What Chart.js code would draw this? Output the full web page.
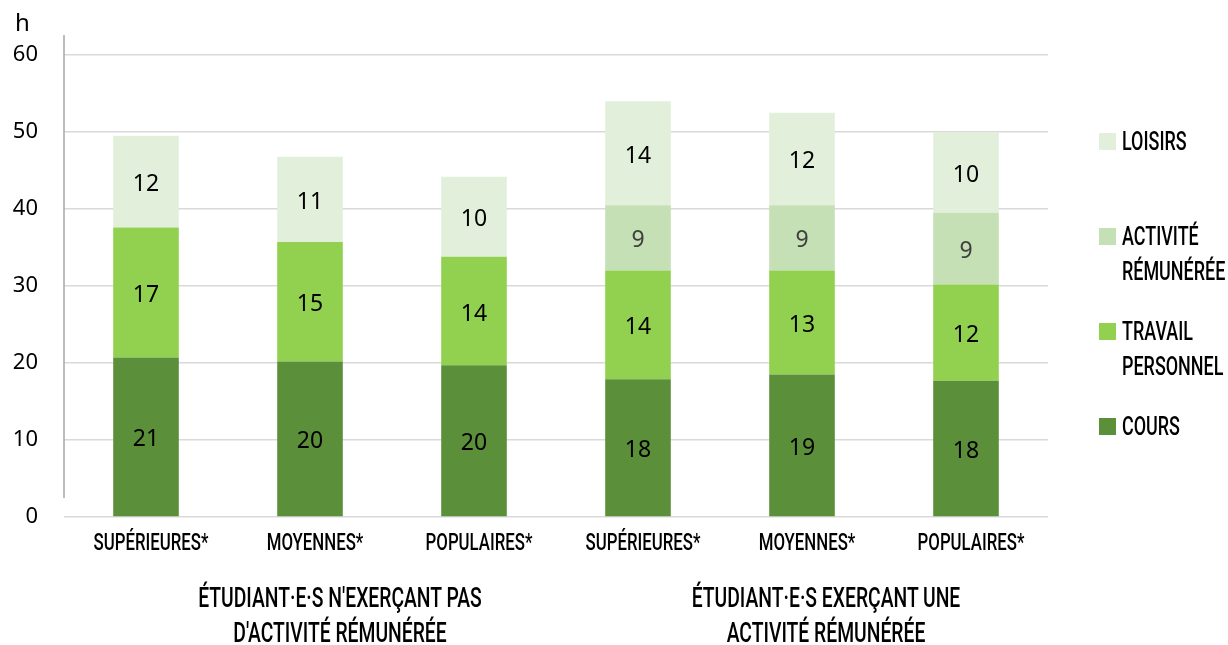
<!DOCTYPE html>
<html lang="fr">
<head>
<meta charset="UTF-8">
<title>Temps hebdomadaire des étudiant·e·s</title>
<script src="https://cdn.jsdelivr.net/npm/chart.js"></script>
<style>
    body { margin: 0; background: #fff; font-family: "Noto Sans", sans-serif; color: #000; }
    #wrap { position: relative; width: 1228px; height: 645px; overflow: hidden; }
    canvas { position: absolute; left: 0; top: 0; }
    .unit { position: absolute; left: 15px; top: 5px; font-size: 24px; }
    .group {
        position: absolute; top: 580px; width: 500px; text-align: center;
        font-family: Roboto, sans-serif; font-weight: 500; font-size: 28px; line-height: 35px;
        transform: scaleX(0.69); transform-origin: 50% 0;
    }
    .legend-item {
        position: absolute; left: 1099px;
        font-family: Roboto, sans-serif; font-weight: 500; font-size: 26px; line-height: 35px;
    }
    .legend-item .box { position: absolute; left: 0; top: 9px; width: 17px; height: 17px; }
    .legend-item .txt {
        position: absolute; left: 23px; top: 0; white-space: nowrap;
        transform: scaleX(0.69); transform-origin: 0 0;
    }
</style>
</head>
<body>
<div id="wrap">
    <canvas id="chart" width="1228" height="645"></canvas>
    <div class="unit">h</div>
    <div class="group" style="left:90px">ÉTUDIANT·E·S N'EXERÇANT PAS<br>D'ACTIVITÉ RÉMUNÉRÉE</div>
    <div class="group" style="left:576px">ÉTUDIANT·E·S EXERÇANT UNE<br>ACTIVITÉ RÉMUNÉRÉE</div>
    <div id="legend"></div>
</div>
<script>
    // categories and values (hours per week)
    const categories = ['SUPÉRIEURES*', 'MOYENNES*', 'POPULAIRES*', 'SUPÉRIEURES*', 'MOYENNES*', 'POPULAIRES*'];
    const cours    = [20.7, 20.2, 19.7, 17.9, 18.5, 17.7];
    const travail  = [16.9, 15.5, 14.1, 14.1, 13.5, 12.5];
    const activite = [0, 0, 0, 8.5, 8.5, 9.3];
    const loisirs  = [11.9, 11.1, 10.4, 13.5, 12.0, 10.5];

    // printed labels (rounded in the source)
    const coursLabels    = [21, 20, 20, 18, 19, 18];
    const travailLabels  = [17, 15, 14, 14, 13, 12];
    const activiteLabels = [null, null, null, 9, 9, 9];
    const loisirsLabels  = [12, 11, 10, 14, 12, 10];

    const seriesNames = ['COURS', 'TRAVAIL PERSONNEL', 'ACTIVITÉ RÉMUNÉRÉE', 'LOISIRS'];
    const colors = ['#5b8f3a', '#92d050', '#c5e0b4', '#e2efda'];
    const labelColors = ['#000', '#000', '#404040', '#000'];
    const labelSets = [coursLabels, travailLabels, activiteLabels, loisirsLabels];

    // legend (html, two-line names)
    const legendRows = [
        { name: ['LOISIRS'], color: colors[3], top: 124 },
        { name: ['ACTIVITÉ', 'RÉMUNÉRÉE'], color: colors[2], top: 219 },
        { name: ['TRAVAIL', 'PERSONNEL'], color: colors[1], top: 314 },
        { name: ['COURS'], color: colors[0], top: 409 }
    ];
    const legend = document.getElementById('legend');
    legendRows.forEach(r => {
        const d = document.createElement('div');
        d.className = 'legend-item';
        d.style.top = r.top + 'px';
        d.innerHTML = `<span class="box" style="background:${r.color}"></span><span class="txt">${r.name.join('<br>')}</span>`;
        legend.appendChild(d);
    });

    const segmentLabels = {
        id: 'segmentLabels',
        afterDatasetsDraw(chart) {
            const ctx = chart.ctx;
            ctx.save();
            ctx.font = '23px "Noto Sans", sans-serif';
            ctx.textAlign = 'center';
            ctx.textBaseline = 'middle';
            chart.data.datasets.forEach((ds, i) => {
                chart.getDatasetMeta(i).data.forEach((bar, j) => {
                    const lab = labelSets[i][j];
                    if (lab == null) return;
                    ctx.fillStyle = labelColors[i];
                    ctx.fillText(lab, bar.x, (bar.y + bar.base) / 2 + 3);
                });
            });
            ctx.restore();
        }
    };

    // condensed category labels + axis line
    const extras = {
        id: 'extras',
        afterDraw(chart) {
            const ctx = chart.ctx;
            const xs = chart.scales.x;
            ctx.save();
            ctx.fillStyle = '#000';
            ctx.font = '500 24px Roboto, sans-serif';
            ctx.textAlign = 'center';
            ctx.textBaseline = 'alphabetic';
            categories.forEach((c, i) => {
                ctx.save();
                ctx.translate(xs.getPixelForTick(i) + 5, 550);
                ctx.scale(0.7, 1);
                ctx.fillText(c, 0, 0);
                ctx.restore();
            });
            const x = chart.chartArea.left;
            ctx.strokeStyle = '#a6a6a6';
            ctx.lineWidth = 1.5;
            ctx.beginPath();
            ctx.moveTo(x, 35);
            ctx.lineTo(x, 498);
            ctx.stroke();
            ctx.restore();
        }
    };

    new Chart(document.getElementById('chart'), {
        type: 'bar',
        data: {
            labels: categories,
            datasets: [cours, travail, activite, loisirs].map((d, i) => ({
                label: seriesNames[i],
                data: d,
                backgroundColor: colors[i],
                borderWidth: 0,
                barPercentage: 0.4,
                categoryPercentage: 1
            }))
        },
        options: {
            responsive: false,
            animation: false,
            layout: { padding: { left: 0, right: 180, top: 55, bottom: 0 } },
            plugins: { legend: { display: false }, tooltip: { enabled: false } },
            scales: {
                x: {
                    stacked: true,
                    grid: { display: false },
                    border: { display: false },
                    ticks: { display: false },
                    afterFit(s) { s.height = 128; }
                },
                y: {
                    stacked: true,
                    min: 0,
                    max: 60,
                    grid: { color: '#d9d9d9', lineWidth: 1.5, drawTicks: false },
                    border: { display: false },
                    ticks: {
                        stepSize: 10,
                        color: '#000',
                        padding: 26,
                        font: { family: '"Noto Sans", sans-serif', size: 22 }
                    },
                    afterFit(s) { s.width = 64; }
                }
            }
        },
        plugins: [segmentLabels, extras]
    });
</script>
</body>
</html>
